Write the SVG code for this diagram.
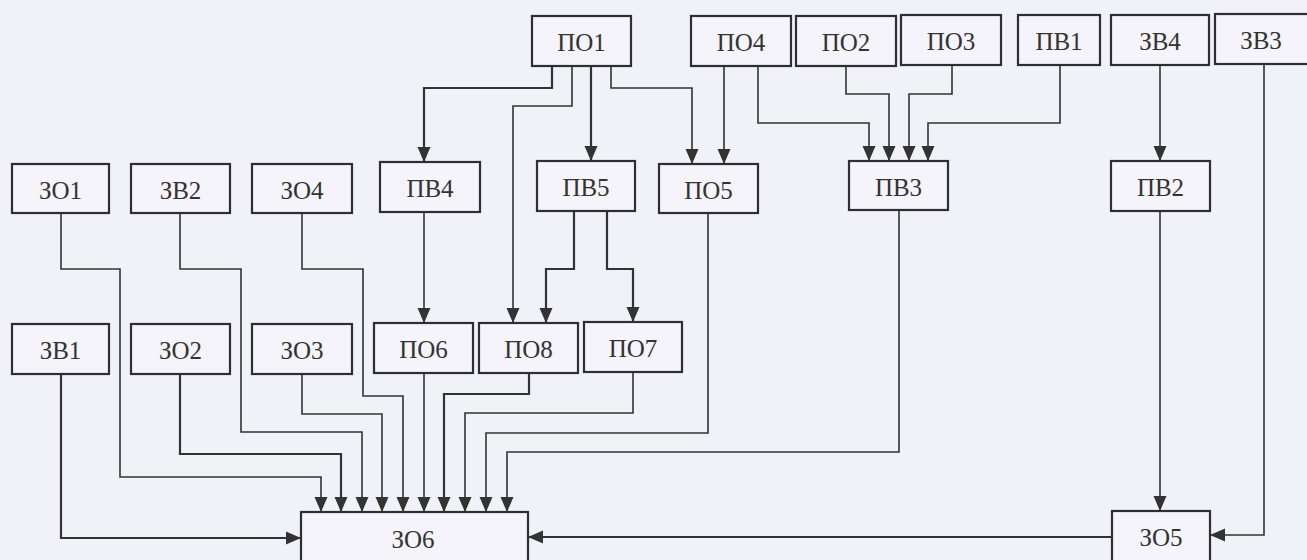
<svg xmlns="http://www.w3.org/2000/svg" width="1307" height="560" viewBox="0 0 1307 560">
<style>
.bg{fill:#f1f1f8}
.box{fill:#f4f4fa;stroke:#2e2e33;stroke-width:2.2}
text{font-family:'Liberation Serif','DejaVu Serif',serif;font-size:25px;fill:#333;text-anchor:middle}
.c{fill:none;stroke:#333;stroke-width:1.6;marker-end:url(#ah)}
.c.t{stroke-width:2.2}
</style>
<defs>
<marker id="ah" markerUnits="userSpaceOnUse" markerWidth="18" markerHeight="18" viewBox="0 0 18 18" refX="16" refY="9" orient="auto">
<path d="M1,2.5 L16,9 L1,15.5 Z" fill="#333"/>
</marker>
</defs>
<rect class="bg" x="0" y="0" width="1307" height="560"/>
<g id="connectors">
<path class="c t" d="M552,66 V88 H424 V162"/>
<path class="c" d="M572,66 V106 H513 V323"/>
<path class="c t" d="M591,66 V161"/>
<path class="c" d="M611,66 V88 H692 V164"/>
<path class="c" d="M724,66 V164"/>
<path class="c" d="M758,66 V123 H869 V161"/>
<path class="c" d="M846,66 V94 H889 V161"/>
<path class="c" d="M952,65 V94 H909 V161"/>
<path class="c" d="M1060,65 V123 H928 V161"/>
<path class="c" d="M1160,65 V161"/>
<path class="c" d="M1264,64 V535 H1210"/>
<path class="c" d="M1160,211 V511"/>
<path class="c t" d="M1112,537 H528"/>
<path class="c t" d="M61,374 V538 H301"/>
<path class="c" d="M61,213 V269 H120 V477 H321 V512"/>
<path class="c t" d="M180,374 V454 H341 V512"/>
<path class="c" d="M180,213 V269 H241 V432 H362 V512"/>
<path class="c" d="M302,374 V414 H382 V512"/>
<path class="c" d="M302,213 V269 H363 V396 H403 V512"/>
<path class="c" d="M424,373 V512"/>
<path class="c t" d="M529,373 V394 H444 V512"/>
<path class="c" d="M633,372 V413 H465 V512"/>
<path class="c" d="M708,213 V433 H486 V512"/>
<path class="c" d="M899,210 V452 H507 V512"/>
<path class="c" d="M424,212 V323"/>
<path class="c t" d="M574,211 V269 H546 V323"/>
<path class="c t" d="M607,211 V269 H633 V322"/>
</g>
<g id="n-PO1"><rect class="box" x="532" y="16" width="99" height="50"/><text x="581.5" y="51">ПО1</text></g>
<g id="n-PO4"><rect class="box" x="691" y="16" width="100" height="50"/><text x="741" y="51">ПО4</text></g>
<g id="n-PO2"><rect class="box" x="796" y="16" width="100" height="50"/><text x="846" y="51">ПО2</text></g>
<g id="n-PO3"><rect class="box" x="901" y="15" width="100" height="50"/><text x="951" y="50">ПО3</text></g>
<g id="n-PV1"><rect class="box" x="1018" y="15" width="82" height="50"/><text x="1059" y="50">ПВ1</text></g>
<g id="n-ZV4"><rect class="box" x="1111" y="15" width="98" height="50"/><text x="1160" y="50">ЗВ4</text></g>
<g id="n-ZV3"><rect class="box" x="1215" y="14" width="100" height="50"/><text x="1261" y="49">ЗВ3</text></g>
<g id="n-ZO1"><rect class="box" x="12" y="164" width="97" height="49"/><text x="60.5" y="199">ЗО1</text></g>
<g id="n-ZV2"><rect class="box" x="131" y="164" width="99" height="49"/><text x="180.5" y="199">ЗВ2</text></g>
<g id="n-ZO4"><rect class="box" x="252" y="164" width="100" height="49"/><text x="302" y="199">ЗО4</text></g>
<g id="n-PV4"><rect class="box" x="380" y="162" width="100" height="50"/><text x="430" y="197">ПВ4</text></g>
<g id="n-PV5"><rect class="box" x="537" y="161" width="98" height="50"/><text x="586" y="196">ПВ5</text></g>
<g id="n-PO5"><rect class="box" x="659" y="164" width="99" height="49"/><text x="708.5" y="199">ПО5</text></g>
<g id="n-PV3"><rect class="box" x="849" y="161" width="99" height="49"/><text x="898.5" y="196">ПВ3</text></g>
<g id="n-PV2"><rect class="box" x="1111" y="161" width="99" height="50"/><text x="1160.5" y="196">ПВ2</text></g>
<g id="n-ZV1"><rect class="box" x="12" y="324" width="97" height="50"/><text x="60.5" y="359">ЗВ1</text></g>
<g id="n-ZO2"><rect class="box" x="131" y="324" width="99" height="50"/><text x="180.5" y="359">ЗО2</text></g>
<g id="n-ZO3"><rect class="box" x="252" y="324" width="100" height="50"/><text x="302" y="359">ЗО3</text></g>
<g id="n-PO6"><rect class="box" x="374" y="323" width="99" height="50"/><text x="423.5" y="358">ПО6</text></g>
<g id="n-PO8"><rect class="box" x="479" y="323" width="99" height="50"/><text x="528.5" y="358">ПО8</text></g>
<g id="n-PO7"><rect class="box" x="584" y="322" width="98" height="50"/><text x="633" y="357">ПО7</text></g>
<g id="n-ZO6"><rect class="box" x="301" y="512" width="227" height="60"/><text x="413" y="548">ЗО6</text></g>
<g id="n-ZO5"><rect class="box" x="1112" y="511" width="98" height="60"/><text x="1161" y="546">ЗО5</text></g>
</svg>
